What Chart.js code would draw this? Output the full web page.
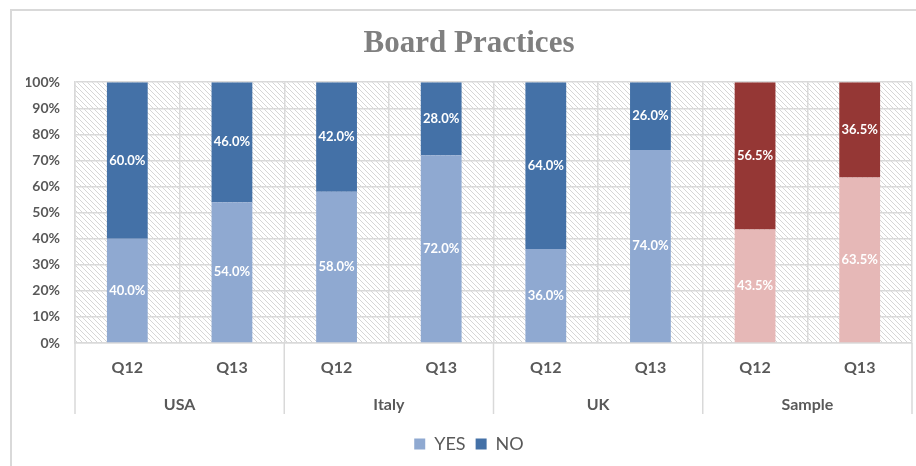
<!DOCTYPE html>
<html>
<head>
<meta charset="utf-8">
<script src="https://cdn.jsdelivr.net/npm/chart.js@4.4.1/dist/chart.umd.min.js"></script>
<style>
  html, body { margin: 0; padding: 0; background: #fff; }
  #wrap { width: 916px; height: 466px; }
</style>
</head>
<body>
<div id="wrap"><canvas id="myChart" width="916" height="466"></canvas></div>
<script>
// data
var questions = ['Q12', 'Q13', 'Q12', 'Q13', 'Q12', 'Q13', 'Q12', 'Q13'];
var groups = ['USA', 'Italy', 'UK', 'Sample'];
var groupOf = ['USA', 'USA', 'Italy', 'Italy', 'UK', 'UK', 'Sample', 'Sample'];
var yesValues = [40.0, 54.0, 58.0, 72.0, 36.0, 74.0, 43.5, 63.5];
var noValues = [60.0, 46.0, 42.0, 28.0, 64.0, 26.0, 56.5, 36.5];
var yTicks = [0, 10, 20, 30, 40, 50, 60, 70, 80, 90, 100];

var txtColor = '#595959';
var gridColor = '#d9d9d9';

function yesColor(c) {
    return groupOf[c.dataIndex] === 'Sample' ? '#e6b8b7' : '#8fa9d1';
}
function noColor(c) {
    return groupOf[c.dataIndex] === 'Sample' ? '#953735' : '#4471a7';
}

// diagonal hatch for the plot area
function makeHatch(ctx) {
    var s = 5;
    var c = document.createElement('canvas');
    c.width = s; c.height = s;
    var g = c.getContext('2d');
    g.fillStyle = '#fff';
    g.fillRect(0, 0, s, s);
    g.strokeStyle = '#d6d6d6';
    g.lineWidth = 1;
    for (var k = -1; k <= 1; k++) {
        g.beginPath();
        g.moveTo(k * s, 0);
        g.lineTo(k * s + s, s);
        g.stroke();
    }
    return ctx.createPattern(c, 'repeat');
}

var backgroundPlugin = {
    id: 'bgHatch',
    beforeDraw: function (chart) {
        var ctx = chart.ctx, a = chart.chartArea;
        ctx.save();
        ctx.fillStyle = '#fff';
        ctx.fillRect(0, 0, chart.width, chart.height);
        ctx.strokeStyle = gridColor;
        ctx.lineWidth = 2;
        ctx.strokeRect(11, 10, chart.width, chart.height); // outer frame
        ctx.fillStyle = makeHatch(ctx);
        ctx.fillRect(a.left, a.top, a.right - a.left, a.bottom - a.top);
        ctx.restore();
    }
};

// group separators below the plot
var groupLinesPlugin = {
    id: 'groupLines',
    afterDraw: function (chart) {
        var x2 = chart.scales.x2, a = chart.chartArea;
        var ctx = chart.ctx;
        var pos = [x2.left];
        for (var i = 1; i < groups.length; i++) {
            pos.push((x2.getPixelForValue(i - 1) + x2.getPixelForValue(i)) / 2);
        }
        pos.push(x2.right);
        ctx.save();
        ctx.strokeStyle = gridColor;
        ctx.lineWidth = 1.5;
        pos.forEach(function (px) {
            ctx.beginPath();
            ctx.moveTo(px, a.bottom);
            ctx.lineTo(px, x2.top + 37);
            ctx.stroke();
        });
        ctx.restore();
    }
};

// value labels in the middle of each segment
var valueLabelsPlugin = {
    id: 'valueLabels',
    afterDatasetsDraw: function (chart) {
        var ctx = chart.ctx;
        ctx.save();
        ctx.fillStyle = '#fff';
        ctx.font = 'bold 13px Lato';
        ctx.textAlign = 'center';
        ctx.textBaseline = 'middle';
        chart.data.datasets.forEach(function (ds, di) {
            var meta = chart.getDatasetMeta(di);
            meta.data.forEach(function (el, i) {
                var v = ds.data[i];
                ctx.fillText(v.toFixed(1) + '%', el.x, (el.y + el.base) / 2);
            });
        });
        ctx.restore();
    }
};

var ctx = document.getElementById('myChart').getContext('2d');
var myChartInstance = new Chart(ctx, {
    type: 'bar',
    data: {
        labels: questions,
        datasets: [{
            label: 'YES',
            data: yesValues,
            backgroundColor: yesColor,
            categoryPercentage: 1,
            barPercentage: 0.39
        }, {
            label: 'NO',
            data: noValues,
            backgroundColor: noColor,
            categoryPercentage: 1,
            barPercentage: 0.39
        }]
    },
    options: {
        responsive: false,
        animation: false,
        layout: { padding: { left: 26, right: 4, top: 0, bottom: 3 } },
        scales: {
            x: {
                stacked: true,
                grid: { color: gridColor, lineWidth: 1.5, drawTicks: false, offset: true },
                border: { color: gridColor, width: 1.5 },
                ticks: { color: txtColor, font: { family: 'Lato', size: 16, weight: 'bold' }, padding: 15 },
                afterFit: function (s) { s.height = 34; }
            },
            x2: {
                type: 'category',
                position: 'bottom',
                labels: groups,
                offset: true,
                grid: { display: false, drawTicks: false },
                border: { display: false },
                ticks: { color: txtColor, font: { family: 'Lato', size: 16, weight: 'bold' }, padding: 18 },
                afterFit: function (s) { s.height = 48; }
            },
            y: {
                stacked: true,
                min: 0,
                max: 100,
                afterBuildTicks: function (s) { s.ticks = yTicks.map(function (v) { return { value: v }; }); },
                grid: { color: gridColor, lineWidth: 1.5, drawTicks: false },
                border: { color: gridColor, width: 1.5 },
                ticks: {
                    color: txtColor,
                    font: { family: 'Lato', size: 14, weight: 'bold' },
                    padding: 15,
                    callback: function (v) { return v + '%'; }
                },
                afterFit: function (s) { s.width = 49; }
            }
        },
        plugins: {
            title: {
                display: true,
                text: 'Board Practices',
                color: '#7f7f7f',
                font: { family: 'Liberation Serif', size: 31, weight: 'bold' },
                padding: { top: 25, bottom: 20 }
            },
            legend: {
                position: 'bottom',
                labels: {
                    color: txtColor,
                    font: { family: 'Lato', size: 18 },
                    boxWidth: 11,
                    boxHeight: 11,
                    padding: 10
                }
            },
            tooltip: { enabled: false }
        }
    },
    plugins: [backgroundPlugin, groupLinesPlugin, valueLabelsPlugin]
});
</script>
</body>
</html>
